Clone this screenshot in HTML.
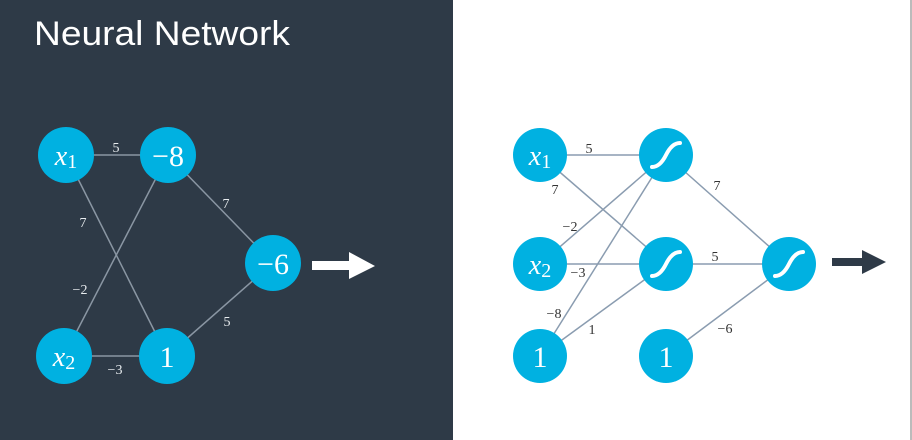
<!DOCTYPE html>
<html><head><style>
body{margin:0;width:912px;height:440px;overflow:hidden;background:#fff}
svg{display:block}
</style></head><body>
<svg width="912" height="440" xmlns="http://www.w3.org/2000/svg">
<rect x="0" y="0" width="453" height="440" fill="#2e3a47"/>
<rect x="910" y="0" width="2" height="440" fill="#bbb"/>
<text x="34" y="45" font-family="DejaVu Sans ExtraLight, Liberation Sans, sans-serif" font-size="34" fill="#fff" font-weight="200" textLength="256" lengthAdjust="spacingAndGlyphs">Neural Network</text>
<g stroke="#8a96a3" stroke-width="1.5">
<line x1="66" y1="155" x2="168" y2="155"/>
<line x1="66" y1="155" x2="167" y2="356"/>
<line x1="168" y1="155" x2="64" y2="356"/>
<line x1="64" y1="356" x2="167" y2="356"/>
<line x1="168" y1="155" x2="273" y2="263"/>
<line x1="167" y1="356" x2="273" y2="263"/>
</g>
<g fill="#00b1e1">
<circle cx="66" cy="155" r="28"/><circle cx="168" cy="155" r="28"/>
<circle cx="64" cy="356" r="28"/><circle cx="167" cy="356" r="28"/>
<circle cx="273" cy="263" r="28"/>
</g>
<g font-family="Liberation Serif, serif" fill="#fff" text-anchor="middle">
<text x="66" y="165" font-size="28" font-style="italic">x<tspan font-size="20" font-style="normal" dy="3">1</tspan></text>
<text x="168" y="166" font-size="30">−8</text>
<text x="64" y="366" font-size="28" font-style="italic">x<tspan font-size="20" font-style="normal" dy="3">2</tspan></text>
<text x="167" y="367" font-size="30">1</text>
<text x="273" y="274" font-size="30">−6</text>
</g>
<g font-family="Liberation Serif, serif" fill="#e8ecef" font-size="14" text-anchor="middle">
<text x="116" y="152">5</text><text x="83" y="227">7</text>
<text x="226" y="208">7</text><text x="80" y="294">−2</text>
<text x="115" y="374">−3</text><text x="227" y="326">5</text>
</g>
<polygon points="312,261 349,261 349,252 375,266 349,279 349,270 312,270" fill="#fff"/>

<g stroke="#8a9cb0" stroke-width="1.5">
<line x1="540" y1="155" x2="666" y2="155"/>
<line x1="540" y1="155" x2="666" y2="264"/>
<line x1="540" y1="264" x2="666" y2="155"/>
<line x1="540" y1="264" x2="666" y2="264"/>
<line x1="540" y1="356" x2="666" y2="155"/>
<line x1="540" y1="356" x2="666" y2="264"/>
<line x1="666" y1="155" x2="789" y2="264"/>
<line x1="666" y1="264" x2="789" y2="264"/>
<line x1="666" y1="356" x2="789" y2="264"/>
</g>
<g fill="#00b1e1">
<circle cx="540" cy="155" r="27"/><circle cx="666" cy="155" r="27"/>
<circle cx="540" cy="264" r="27"/><circle cx="666" cy="264" r="27"/>
<circle cx="540" cy="356" r="27"/><circle cx="666" cy="356" r="27"/>
<circle cx="789" cy="264" r="27"/>
</g>
<g stroke="#fff" stroke-width="4" fill="none" stroke-linecap="round">
<path d="M652,167 Q660,167 666,155 T680,143"/>
<path d="M652,276 Q660,276 666,264 T680,252"/>
<path d="M775,276 Q783,276 789,264 T803,252"/>
</g>
<g font-family="Liberation Serif, serif" fill="#fff" text-anchor="middle">
<text x="540" y="165" font-size="28" font-style="italic">x<tspan font-size="20" font-style="normal" dy="3">1</tspan></text>
<text x="540" y="274" font-size="28" font-style="italic">x<tspan font-size="20" font-style="normal" dy="3">2</tspan></text>
<text x="540" y="367" font-size="30">1</text>
<text x="666" y="367" font-size="30">1</text>
</g>
<g font-family="Liberation Serif, serif" fill="#333" font-size="14" text-anchor="middle">
<text x="589" y="153">5</text><text x="555" y="194">7</text>
<text x="570" y="231">−2</text><text x="578" y="277">−3</text>
<text x="554" y="318">−8</text><text x="592" y="334">1</text>
<text x="717" y="190">7</text><text x="715" y="261">5</text>
<text x="725" y="333">−6</text>
</g>
<polygon points="832,258 862,258 862,250 886,262 862,274 862,266 832,266" fill="#2e3a47"/>
</svg>
</body></html>
